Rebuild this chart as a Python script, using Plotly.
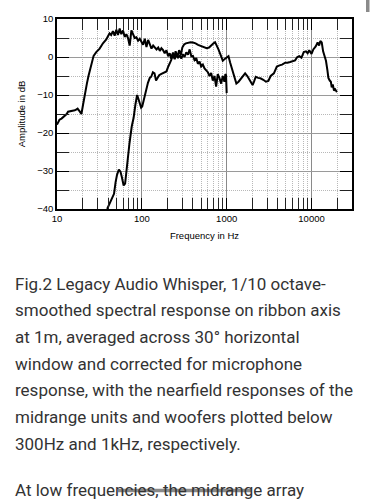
import plotly.graph_objects as go

# ---------------- data ----------------
woofer_freq = [10, 10.7, 11.3, 12.3, 13.0, 13.5, 14.5, 15.5, 16.2, 17.0, 17.5, 18.5, 19.4, 20.3,
               21.2, 22.5, 23.5, 24.5, 25.8, 27.0, 29.0, 31.8, 34.8, 38.1, 40, 41.7, 43.5, 45.6,
               47.8, 50.0, 52.3, 54.8, 57.3, 60.0, 62.8, 65.7, 68.7, 71.9, 75.3, 78.8, 82.4, 86.3,
               90.3, 94.5, 98.9, 103.5, 108.3, 113.4, 118.6, 124, 130, 136, 142, 149, 156, 163,
               170, 178, 186, 195, 204, 213, 223, 233, 244, 255, 267, 279, 292, 305, 319, 334,
               350, 366, 383, 400, 418, 438, 458, 479, 500, 524, 548, 573, 600, 627, 656, 686,
               718, 751, 785, 821, 860, 899, 940, 965, 983, 1000]
woofer_db = [-17.8, -16.5, -16.2, -15.5, -15.0, -14.4, -14.3, -14.1, -14.0, -13.8, -13.6, -14.3, -15.0, -12.5,
             -9.6, -7.0, -5.0, -3.4, -0.8, 0.3, 1.3, 2.2, 3.6, 4.6, 5.5, 6.2, 5.8, 6.8,
             5.6, 7.2, 5.8, 7.5, 6.0, 7.0, 5.3, 6.0, 5.0, 3.0, 7.0, 5.8, 5.0, 5.2,
             4.3, 4.8, 4.0, 3.2, 4.8, 2.6, 4.5, 3.6, 2.2, 3.0, 2.4, 2.0, 2.5, 1.6,
             2.3, 1.8, 1.0, 1.8, 0.2, 1.0, -0.5, 1.2, -0.6, 0.8, -0.3, 0.5, -0.4, 0.7, 0.0, 1.2,
             0.6, 2.0, 0.2, 0.3, -0.8, -0.3, -1.8, -1.2, -2.5, -2.0, -3.0, -3.5, -4.0, -5.0, -4.2, -6.2,
             -5.0, -7.8, -4.5, -5.5, -7.0, -5.0, -6.5, -4.5, -4.8, -9.5]

main_freq = [39, 42, 45, 47, 49, 51, 53.6, 56, 58, 61, 63.5, 66, 68.6, 71.5, 76, 80, 84, 88, 91, 94,
             98, 101, 106, 112, 118, 124, 129, 135, 141, 147, 153, 160, 168, 176, 185, 195, 205, 214,
             222, 230, 240, 250, 262, 275, 288, 300, 315, 330, 350, 375, 400, 430, 460, 500, 540, 580,
             620, 660, 700, 730, 760, 800, 850, 900, 950, 1000, 1050, 1100, 1170, 1240, 1300, 1380,
             1450, 1550, 1650, 1750, 1850, 1950, 2020, 2100, 2200, 2350, 2500, 2700, 2900, 3100, 3300,
             3600, 3900, 4200, 4500, 4900, 5200, 5600, 6000, 6400, 6800, 7200, 7600, 8100, 8600, 9000,
             9400, 10000, 10500, 11200, 11800, 12300, 12700, 13200, 13700, 14200, 14800, 15400, 15800,
             16400, 16900, 17300, 17800, 18400, 19000, 19600, 20000]
main_db = [-40, -38.5, -37.2, -36.0, -33.0, -31.0, -29.6, -30.2, -31.5, -33.8, -33.3, -29.5, -26.2, -22.7,
           -18.3, -16, -12.5, -10.0, -11.0, -12.2, -13.3, -13.0, -11.0, -8.5, -6.8, -5.5, -5.2, -4.0,
           -4.3, -6.2, -5.5, -4.8, -4.5, -4.3, -4.2, -3.8, -2.5, -1.5, -0.8, 0.8, -0.3, 1.5, 0.0, 1.8,
           0.5, 2.5, 3.3, 3.6, 3.8, 3.9, 3.8, 3.6, 3.2, 2.9, 2.5, 2.3, 2.5, 3.2, 3.6, 3.9, 3.2, 2.0,
           0.5, -1.0, -0.5, 0.0, 0.2, -1.5, -3.5, -5.5, -7.0, -6.5, -5.8, -5.0, -4.3, -5.0, -5.8, -6.8,
           -7.4, -6.5, -5.2, -5.5, -5.6, -6.0, -6.5, -6.3, -5.0, -4.3, -2.5, -2.2, -2.0, -1.5, -1.5,
           -1.3, -1.0, -0.9, 0.0, 0.2, -0.2, 1.3, 1.5, 1.0, 1.8, 0.8, 2.0, 2.8, 3.8, 3.0, 4.2, 3.8,
           1.5, 0.5, -1.0, -3.5, -5.5, -6.2, -6.5, -8.0, -7.2, -8.8, -8.5, -9.0, -8.8]

x_major = [10, 100, 1000, 10000]
x_major_labels = ["10", "100", "1000", "10000"]
x_minor = [m * d for d in (10, 100, 1000) for m in range(2, 10)] + [20000]
y_ticks = [10, 0, -10, -20, -30, -40]
y_minor = [5, -5, -15, -25, -35]

caption_lines = [
    "Fig.2 Legacy Audio Whisper, 1/10 octave-",
    "smoothed spectral response on ribbon axis",
    "at 1m, averaged across 30° horizontal",
    "window and corrected for microphone",
    "response, with the nearfield responses of the",
    "midrange units and woofers plotted below",
    "300Hz and 1kHz, respectively.",
]
next_para = "At low frequencies, the midrange array"

# ---------------- geometry helpers (pixel -> paper) ----------------
W, H = 373, 500
L, R, T, B = 57, 21, 19, 291
PW, PH = W - L - R, H - T - B


def px2x(px):
    return (px - L) / PW


def py2y(py):
    return (H - B - py) / PH


fig = go.Figure()
for fx, fy in ((woofer_freq, woofer_db), (main_freq, main_db)):
    fig.add_trace(go.Scatter(x=fx, y=fy, mode="lines",
                             line=dict(color="black", width=2),
                             hoverinfo="skip", showlegend=False))

axis_font = dict(family="Liberation Sans, Arial", size=9.5, color="#000")

fig.update_xaxes(
    type="log", range=[1, 4.4771], tickmode="array", tickvals=x_major, ticktext=x_major_labels,
    showgrid=True, gridcolor="#8a8a8a", gridwidth=1.3,
    ticks="inside", ticklen=11, tickcolor="black", tickwidth=1.3,
    showline=True, linecolor="black", linewidth=1.7, mirror="allticks",
    minor=dict(tickmode="array", tickvals=x_minor, ticks="inside", ticklen=11,
               tickcolor="#222", tickwidth=1.3, showgrid=True, gridcolor="#b8b8b8",
               griddash="1px,1px", gridwidth=1),
    tickfont=axis_font, zeroline=False,
    title=dict(text="Frequency in Hz", font=axis_font, standoff=9),
)
fig.update_yaxes(
    range=[-40, 10], tickmode="array", tickvals=y_ticks,
    showgrid=True, gridcolor="#9a9a9a", gridwidth=1,
    ticks="inside", ticklen=12, tickcolor="black", tickwidth=1.3,
    showline=True, linecolor="black", linewidth=1.7, mirror="allticks",
    minor=dict(tickmode="array", tickvals=y_minor, ticks="inside", ticklen=12, tickcolor="#222",
               tickwidth=1.3, showgrid=True, gridcolor="#b8b8b8", griddash="1px,1px", gridwidth=1),
    tickfont=axis_font, zeroline=False,
    title=dict(text="Amplitude in dB", font=axis_font, standoff=10),
)

annotations = []
baselines = [289.5, 316.2, 342.9, 369.6, 396.3, 423.0, 449.7]
for line, bl in zip(caption_lines, baselines):
    annotations.append(dict(text=line, x=px2x(13), y=py2y(bl - 6), xref="paper", yref="paper",
                            xanchor="left", yanchor="middle", showarrow=False,
                            font=dict(family="Roboto", size=17, color="#333333")))
annotations.append(dict(text=next_para, x=px2x(13), y=py2y(496.5 - 6), xref="paper", yref="paper",
                        xanchor="left", yanchor="middle", showarrow=False,
                        font=dict(family="Roboto", size=17, color="#333333")))

shapes = [
    # scroll indicator at top right
    dict(type="rect", xref="paper", yref="paper", x0=px2x(366), x1=px2x(369.5), y0=py2y(0), y1=py2y(12),
         fillcolor="#8a8a8a", line=dict(width=0)),
    # overlay bar across last text line
    dict(type="line", xref="paper", yref="paper", x0=px2x(118), x1=px2x(251), y0=py2y(490.5), y1=py2y(490.5),
         line=dict(color="rgba(125,125,125,0.9)", width=3.5)),
]

fig.update_layout(
    width=W, height=H, margin=dict(l=L, r=R, t=T, b=B, autoexpand=False),
    paper_bgcolor="white", plot_bgcolor="white",
    annotations=annotations, shapes=shapes, showlegend=False,
)
fig.write_html("out.html", config={"displayModeBar": False})
